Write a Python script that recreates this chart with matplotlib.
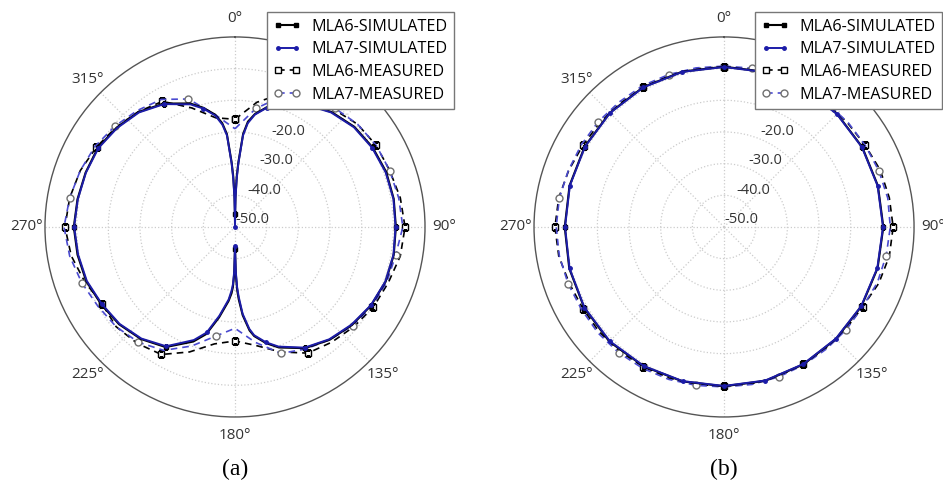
import numpy as np
import matplotlib
matplotlib.use('Agg')
import matplotlib.pyplot as plt

plt.rcParams['font.family'] = ['Open Sans', 'DejaVu Sans']

# ---- panel (a): E-plane, figure-eight pattern ----
ang_sim_a = [0, 1, 2, 3, 5, 7, 10, 15, 20, 30, 40, 50, 60, 70, 80, 90, 100, 110, 120,
             130, 140, 150, 160, 165, 170, 172, 175, 177, 178, 179, 180, 181, 182, 183,
             185, 188, 190, 195, 200, 210, 220, 230, 240, 250, 260, 270, 280, 290, 300,
             310, 320, 330, 340, 345, 350, 353, 355, 357, 358, 359, 360]
mla6_sim_a = [-46, -40, -34, -29.5, -20.5, -16.5, -13.8, -10.8, -8.2, -5.2, -2.6, -0.8, 0.2, 0.8, 0.9, 0.8, 0.9, 0.6, -0.4,
              -1.8, -3.5, -5.8, -9.5, -12, -15, -17, -22, -27, -30, -35, -43, -35, -31, -29,
              -26.5, -23.5, -21, -15, -11.5, -6.2, -3.8, -2.2, -1.2, 0, 0.5, 0.9, 0.5, 0.2, 0,
              -1.2, -2.6, -5.0, -8.5, -11, -14, -17, -20.5, -29.5, -34, -40, -46]
mla7_sim_a = [-50, -41, -35, -30, -21, -17, -14, -11, -8.4, -5.4, -2.8, -1.0, 0.0, 0.6, 0.8, 0.7, 0.8, 0.5, -0.5,
              -2.0, -3.7, -6.0, -9.8, -12.3, -15.3, -17.5, -22.5, -28, -31, -36, -44, -36, -32, -30,
              -27, -24, -21.5, -15.5, -12, -6.5, -4.0, -2.4, -1.4, -0.2, 0.3, 0.8, 0.4, 0.1, -0.2,
              -1.4, -2.8, -5.2, -8.8, -11.3, -14.3, -17.5, -21, -30, -35, -41, -50]

ang_meas = list(range(0, 361, 10))
mla6_meas_a = [-16, -10, -5, -3, -1.5, 0.5, 1.5, 2, 3, 3.7, 3, 1.5, 0.5, -1, -2.5, -4, -8, -12, -14,
               -12.5, -8, -3.5, -2, -1, -1.5, 0.5, 2.5, 3.7, 3, 2, 0.5, -1, -2.5, -4.2, -10, -15, -16]
mla7_meas_a = [-19, -12, -6, -4, -1, 0.5, 1.5, 2, 2.5, 3, 1.5, 1, 0, -1.5, -3.5, -5.5, -7.5, -13, -18,
               -15, -10, -5, -2.5, -1, 0, 1.5, 3, 4, 3, 2, 1, -0.5, -2, -3.5, -7, -14, -19]

# ---- panel (b): H-plane, near omnidirectional ----
ang_sim_b = list(range(0, 361, 15))
mla6_sim_b = [0.6, 0.7, 0.6, 0.5, 0.4, 0.3, 0.3, 0.2, 0.1, 0.0, 0.1, 0.3, 0.3,
              0.5, 0.8, 1.2, 1.0, 0.6, 0.3, 0.5, 0.8, 1.0, 1.0, 0.8, 0.6]
mla7_sim_b = [0.5, 0.6, 0.5, 0.4, 0.3, 0.2, 0.2, 0.1, 0.0, -0.1, 0.0, 0.2, 0.2,
              0.4, 0.7, 1.0, 0.9, 0.5, 0.2, 0.4, 0.7, 0.9, 0.9, 0.7, 0.5]
mla6_meas_b = [0.6, 0.5, 0.5, 0.5, 0.8, 1, 1.5, 2.5, 3, 3.4, 3, 2, 0.5, 0.2, 0, 0, 0.2, 0.3, 0.3,
               0.5, 0.8, 1, 1.3, 1.5, 1.5, 2, 3, 3.4, 3, 2.2, 1.5, 1.2, 1, 1, 0.8, 0.7, 0.6]
mla7_meas_b = [0.8, 0.9, 0.7, 0.5, 0.8, 1.2, 1.5, 2, 2.5, 2.5, 2, 1.5, 0.5, 0.4, 0.3, 0.3, 0.4, 0.5, 0.5,
               0.8, 1.2, 1.5, 1.8, 2, 2, 2.4, 2.8, 3, 2.8, 2.3, 2, 1.8, 1.5, 1.5, 1.2, 1, 0.8]

r_ticks = [-50, -40, -30, -20, -10, 0]
theta_ticks = [0, 45, 90, 135, 180, 225, 270, 315]
labels = ['MLA6-SIMULATED', 'MLA7-SIMULATED', 'MLA6-MEASURED', 'MLA7-MEASURED']
captions = ['(a)', '(b)']

blue = '#1c1ca8'
mblue = '#4a4ad0'


def every(ang, step):
    return [i for i, a in enumerate(ang) if a % step == 0 and a < 360]


fig = plt.figure(figsize=(9.43, 4.83), dpi=100)
panels = [
    (0.0477, 0.2831, ang_sim_a, mla6_sim_a, mla7_sim_a, mla6_meas_a, mla7_meas_a),
    (0.5663, 0.8006, ang_sim_b, mla6_sim_b, mla7_sim_b, mla6_meas_b, mla7_meas_b),
]

for k, (left, lx, angs, s6, s7, m6, m7) in enumerate(panels):
    ax = fig.add_axes([left, 0.1366, 0.403, 0.787], projection='polar')
    ax.set_theta_zero_location('N')
    ax.set_theta_direction(-1)

    t_sim = np.deg2rad(angs)
    t_meas = np.deg2rad(ang_meas)
    ax.plot(t_sim, s6, color='black', lw=1.5, marker='s', ms=3.5,
            markevery=every(angs, 30), label=labels[0], zorder=4)
    ax.plot(t_sim, s7, color=blue, lw=1.4, marker='o', ms=2.5,
            markevery=every(angs, 15), label=labels[1], zorder=4)
    ax.plot(t_meas, m6, color='black', lw=1.2, ls=(0, (4, 3)), marker='s', ms=5,
            mfc='white', mec='black', mew=1.0, markevery=slice(0, None, 3), label=labels[2], zorder=3)
    ax.plot(t_meas, m7, color=mblue, lw=1.2, ls=(0, (4, 3)), marker='o', ms=5,
            mfc='white', mec='#707070', mew=1.0, markevery=slice(1, None, 3), label=labels[3], zorder=3)

    ax.set_ylim(-50, 10)
    ax.set_yticks(r_ticks)
    ax.set_yticklabels([])
    ax.set_xticks(np.deg2rad(theta_ticks))
    ax.set_xticklabels([f'{t}\u00b0' for t in theta_ticks], fontsize=11, color='#333333')
    ax.tick_params(axis='x', pad=3)
    ax.grid(True, color='#cccccc', ls=':', lw=0.9)
    ax.spines['polar'].set_color('#555555')
    ax.spines['polar'].set_linewidth(1.0)

    for r in r_ticks:
        ax.text(np.deg2rad(22.5), r, f'{r:.1f}', ha='left', va='bottom',
                fontsize=10.5, color='#333333', zorder=2)

    leg = ax.legend(loc='upper left', bbox_to_anchor=(lx, 0.975), bbox_transform=fig.transFigure,
                    fontsize=11.6, fancybox=False, framealpha=1, edgecolor='#777777',
                    numpoints=2, handlelength=1.7, borderpad=0.4, labelspacing=0.42,
                    handletextpad=0.65, borderaxespad=0)
    leg.get_frame().set_linewidth(1.0)
    leg.set_zorder(10)

    fig.text(left + 0.2015, 0.029, captions[k], ha='center', va='center',
             fontsize=17, family='Liberation Serif')

fig.savefig('out.png', dpi=100)
